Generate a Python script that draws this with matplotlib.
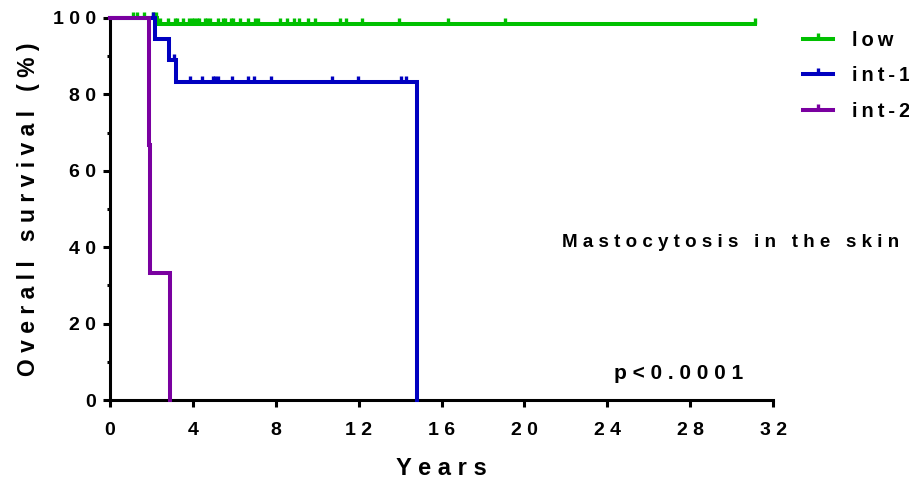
import numpy as np
import matplotlib
matplotlib.use("Agg")
import matplotlib.pyplot as plt
from matplotlib.lines import Line2D
from matplotlib.ticker import FixedLocator, FuncFormatter

plt.rcParams['font.family'] = ['Liberation Sans', 'DejaVu Sans']
plt.rcParams['font.weight'] = 'bold'

# Kaplan-Meier steps (years, % surviving) per risk group
low_t = [0, 2.27, 31.13]
low_s = [100, 98.5, 98.5]
low_cens = [1.1, 1.3, 1.65, 2.1, 2.2, 2.41, 2.82, 3.14, 3.25, 3.54, 3.83, 3.94,
            4.07, 4.18, 4.31, 4.58, 4.70, 4.83, 5.23, 5.44, 5.55, 5.83, 5.95,
            6.27, 6.68, 7.0, 7.16, 8.2, 8.56, 8.88, 9.12, 9.57, 9.89, 11.1,
            11.38, 12.18, 13.96, 16.3, 19.06, 31.13]

int1_t = [0, 2.17, 2.86, 3.19, 14.8]
int1_s = [100, 94.4, 88.9, 83.3, 0]
int1_cens = [2.1, 3.09, 3.86, 4.46, 4.99, 5.07, 5.23, 5.90, 6.68, 6.97, 7.77,
             10.73, 11.98, 14.03, 14.29]

int2_t = [0, 1.9, 1.93, 2.9]
int2_s = [100, 66.7, 33.3, 0]
int2_cens = []

groups = ['low', 'int-1', 'int-2']
colors = ['#00C000', '#0000C0', '#7A00A0']

xticks = [0, 4, 8, 12, 16, 20, 24, 28, 32]
yticks = [0, 20, 40, 60, 80, 100]


def spaced(s, gap=' '):
    return gap.join(s)


def surv_at(t, times, surv):
    i = np.searchsorted(times, t, side='right') - 1
    return surv[i]


tick = [(0, 0), (0, 1)]  # censor mark: short stroke pointing up

fig = plt.figure(figsize=(9.09, 4.82), dpi=100)
ax = fig.add_axes([0.121, 0.1701, 0.7294, 0.7926])

series = [(low_t, low_s, low_cens), (int1_t, int1_s, int1_cens),
          (int2_t, int2_s, int2_cens)]
for (t, s, cens), c in zip(series, colors):
    ax.plot(t, s, drawstyle='steps-post', color=c, lw=2.9,
            solid_joinstyle='miter', clip_on=False, zorder=3)
    if cens:
        cy = [surv_at(x, t, s) for x in cens]
        ax.plot(cens, cy, ls='none', marker=tick, ms=9, mew=2.4, mec=c,
                clip_on=False, zorder=3)

ax.set_xlim(0, 32)
ax.set_ylim(0, 100)
for side in ['top', 'right']:
    ax.spines[side].set_visible(False)
for side in ['left', 'bottom']:
    ax.spines[side].set_linewidth(2.2)

ax.xaxis.set_major_locator(FixedLocator(xticks))
ax.yaxis.set_major_locator(FixedLocator(yticks))
ax.yaxis.set_minor_locator(FixedLocator([10, 30, 50, 70, 90]))
fmt = FuncFormatter(lambda v, p: spaced(str(int(v))))
ax.xaxis.set_major_formatter(fmt)
ax.yaxis.set_major_formatter(fmt)
ax.tick_params(which='major', length=5, width=2.2, labelsize=14)
ax.tick_params(which='minor', length=2.5, width=2.2)
ax.tick_params(axis='x', pad=11)
ax.tick_params(axis='y', pad=5)

ax.set_xlabel(spaced('Years'), fontsize=17, fontweight='bold', labelpad=13)
ax.set_ylabel(spaced('Overall survival (%)'), fontsize=16.5,
              fontweight='bold', labelpad=9)

handles = [Line2D([], [], color=c, lw=2.9, marker=tick, ms=9, mew=2.4, mec=c)
           for c in colors]
fig.legend(handles, [spaced(g, '\u2009') for g in groups], loc='upper left',
           bbox_to_anchor=(0.883, 0.935), frameon=False, fontsize=14.5,
           handlelength=1.5, handletextpad=0.95, labelspacing=0.8,
           borderaxespad=0, borderpad=0)

fig.text(0.804, 0.496, spaced('Mastocytosis in the skin'), fontsize=13.5,
         fontweight='bold', ha='center', va='center')
fig.text(0.747, 0.226, spaced('p<0.0001'), fontsize=15, fontweight='bold',
         ha='center', va='center')

fig.savefig('out.png', dpi=100)
